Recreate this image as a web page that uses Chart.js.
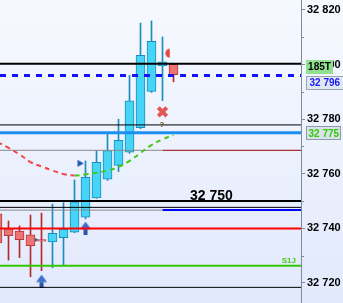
<!DOCTYPE html>
<html>
<head>
<meta charset="utf-8">
<script src="https://cdn.jsdelivr.net/npm/chart.js@4.4.1/dist/chart.umd.min.js"></script>
<style>
  html, body { margin: 0; padding: 0; background: #eef2fd; }
  canvas { display: block; }
</style>
</head>
<body>
<canvas id="chart" width="343" height="303"></canvas>
<script>
// candles, one per bar index (the first one is cut by the left edge)
const barIndex = [0, 1, 2, 3, 4, 5, 6, 7, 8, 9, 10, 11, 12, 13, 14, 15, 16];
const opens  = [32745.3, 32739.9, 32739.0, 32737.6, 32735.9, 32735.0, 32736.6, 32738.6, 32744.1, 32751.2, 32758.0, 32763.1, 32767.9, 32776.9, 32790.2, 32799.5, 32800.1];
const highs  = [32747.0, 32742.7, 32740.9, 32744.9, 32745.6, 32748.9, 32749.4, 32757.7, 32764.7, 32768.5, 32774.6, 32780.0, 32796.1, 32815.2, 32816.0, 32810.1, 32800.2];
const lows   = [32731.0, 32728.4, 32729.3, 32722.3, 32724.5, 32725.6, 32726.6, 32738.4, 32743.5, 32751.0, 32757.6, 32760.8, 32767.5, 32776.5, 32789.8, 32786.8, 32793.7];
const closes = [32734.7, 32737.3, 32735.9, 32733.7, 32735.3, 32738.2, 32739.7, 32749.7, 32758.7, 32764.2, 32768.5, 32772.3, 32786.7, 32803.4, 32808.5, 32801.0, 32796.3];

// moving average (red while falling, green while rising)
const maValues = [32771.6, 32769.5, 32767.1, 32764.3, 32762.7, 32761.2, 32759.9, 32759.4, 32759.8, 32760.4, 32761.2, 32762.5, 32764.7, 32767.6, 32770.5, 32772.6, 32774.2];

// horizontal price levels
const levelValues = [32800.3, 32796, 32777.9, 32775, 32768.6, 32750, 32747.7, 32746.7, 32740, 32726.3, 32718.4];
const levelSplitAt = 15;   // bar index where two-coloured levels change colour

// signal markers
const arrowUpX = [4, 8];
const arrowUpY = [32720.7, 32740.1];
const flagRightX = [7.47, 3.34];
const flagRightY = [32763.8, 32735.8];
const flagLeftX = [15.45];
const flagLeftY = [32804.2];
const crossX = [15];
const crossY = [32782.7];

// texts
const levelCaption = '32 750';
const levelCaptionValue = 32750;
const s1Caption = 'S1J';
const s1Value = 32726.3;
const timerTag = '185T';
const lastPrice = 32796;
const maPrice = 32775;

const yMin = 32712.67;
const yMax = 32823.66;
const xMin = 0.227;
const xMax = 27.591;

const fmt = v => String(Math.round(v)).replace(/\B(?=(\d{3})+$)/, ' ');
const axisColor = '#7d8c9c';

const levelStyles = [
    {color: '#000000', width: 2},
    {color: '#1515f2', width: 3, dash: [6, 6]},
    {color: '#000000', width: 1},
    {color: '#1d8ff2', width: 3},
    {color: '#8a8a8a', width: 1, after: {color: '#a00000', width: 1}},
    {color: '#000000', width: 2},
    {color: '#000000', width: 1},
    {color: '#8a8a8a', width: 1, after: {color: '#0000ff', width: 2}},
    {color: '#ff0000', width: 2},
    {color: '#33c800', width: 2},
    {color: '#000000', width: 1},
];

function arrowImage() {
    const c = document.createElement('canvas');
    c.width = 11; c.height = 13;
    const g = c.getContext('2d');
    g.fillStyle = '#3e70c9';
    g.beginPath();
    g.moveTo(5.5, 0); g.lineTo(11, 7.5); g.lineTo(0, 7.5);
    g.closePath(); g.fill();
    g.fillStyle = '#2b55a8';
    g.fillRect(3.5, 7.5, 4, 5.5);
    return c;
}

function halfDiscImage() {
    const c = document.createElement('canvas');
    c.width = 6; c.height = 10;
    const g = c.getContext('2d');
    g.fillStyle = '#e04444';
    g.beginPath();
    g.arc(5.5, 5, 4.6, Math.PI / 2, Math.PI * 1.5);
    g.closePath(); g.fill();
    return c;
}

const isUp = i => closes[i] >= opens[i];

const datasets = [];

// wicks
datasets.push({
    type: 'bar',
    data: barIndex.map(i => ({x: i, y: [lows[i], highs[i]]})),
    backgroundColor: ctx => isUp(ctx.dataIndex) ? '#1a8cc0' : '#b32a2a',
    borderWidth: 0,
    grouped: false,
    barPercentage: 1,
    categoryPercentage: 1,
    barThickness: 1,
    maxBarThickness: 1,
    order: 6,
});
// bodies
datasets.push({
    type: 'bar',
    data: barIndex.map(i => ({x: i, y: [opens[i], closes[i]]})),
    backgroundColor: ctx => isUp(ctx.dataIndex) ? '#47d5f7' : '#ee7474',
    borderColor: ctx => isUp(ctx.dataIndex) ? '#1a8cc0' : '#b63a3a',
    borderWidth: 1,
    borderSkipped: false,
    grouped: false,
    barPercentage: 1,
    categoryPercentage: 1,
    barThickness: 9,
    maxBarThickness: 9,
    order: 5,
});

// markers
datasets.push({
    type: 'line', showLine: false,
    data: arrowUpX.map((x, i) => ({x: x, y: arrowUpY[i]})),
    pointStyle: arrowImage(),
    order: 4,
});
datasets.push({
    type: 'line', showLine: false,
    data: flagRightX.map((x, i) => ({x: x, y: flagRightY[i]})),
    pointStyle: 'triangle',
    rotation: 90,
    pointRadius: 3.6,
    pointBackgroundColor: '#1f4fa0',
    pointBorderColor: '#5a82cc',
    pointBorderWidth: 1,
    order: 7,
});
datasets.push({
    type: 'line', showLine: false,
    data: flagLeftX.map((x, i) => ({x: x, y: flagLeftY[i]})),
    pointStyle: halfDiscImage(),
    order: 0,
});
datasets.push({
    type: 'line', showLine: false,
    data: crossX.map((x, i) => ({x: x, y: crossY[i]})),
    pointStyle: 'crossRot',
    pointRadius: 6,
    pointBorderWidth: 4,
    pointBorderColor: '#e25858',
    order: 0,
});

// levels
levelValues.forEach((v, k) => {
    const st = levelStyles[k];
    const end = st.after ? levelSplitAt : xMax;
    datasets.push({
        type: 'line',
        data: [{x: xMin, y: v}, {x: end, y: v}],
        borderColor: st.color,
        borderWidth: st.width,
        borderDash: st.dash || [],
        pointRadius: 0,
        order: 2,
    });
    if (st.after) {
        datasets.push({
            type: 'line',
            data: [{x: levelSplitAt, y: v}, {x: xMax, y: v}],
            borderColor: st.after.color,
            borderWidth: st.after.width,
            pointRadius: 0,
            order: 2,
        });
    }
});

// moving average
datasets.push({
    type: 'line',
    data: barIndex.map(i => ({x: i, y: maValues[i]})),
    borderWidth: 2,
    borderDash: [5, 4],
    tension: 0.4,
    pointRadius: 0,
    segment: {
        borderColor: ctx => ctx.p1.parsed.y < ctx.p0.parsed.y ? '#f04848' : '#45c81e',
    },
    order: 1,
});

const overlay = {
    id: 'overlay',
    beforeDraw(chart) {
        const {ctx, width, height} = chart;
        const g = ctx.createLinearGradient(0, 0, 0, height);
        g.addColorStop(0, '#f6f9fe');
        g.addColorStop(1, '#e2e9fc');
        ctx.save();
        ctx.fillStyle = g;
        ctx.fillRect(0, 0, width, height);
        ctx.restore();
    },
    afterDraw(chart) {
        const {ctx, chartArea} = chart;
        const x = chart.scales.x;
        const y = chart.scales.y;
        ctx.save();

        // short minor ticks on the price axis
        ctx.strokeStyle = axisColor;
        ctx.lineWidth = 1;
        y.ticks.forEach(t => {
            if (Math.round(t.value) % 20 !== 0) {
                const py = Math.round(y.getPixelForValue(t.value)) + 0.5;
                ctx.beginPath();
                ctx.moveTo(chartArea.right, py);
                ctx.lineTo(chartArea.right + 3, py);
                ctx.stroke();
            }
        });

        // level caption
        ctx.font = 'bold 14px "Liberation Sans"';
        ctx.fillStyle = '#000';
        ctx.textAlign = 'left';
        ctx.textBaseline = 'alphabetic';
        ctx.fillText(levelCaption, x.getPixelForValue(17.5), y.getPixelForValue(levelCaptionValue) - 1.5);

        // S1J caption
        ctx.font = 'bold 8px "Liberation Sans"';
        ctx.fillStyle = '#44cc22';
        ctx.textAlign = 'right';
        ctx.fillText(s1Caption, chartArea.right - 5, y.getPixelForValue(s1Value) - 3);

        // small question mark under the cross
        ctx.font = 'bold 7px "Liberation Sans"';
        ctx.fillStyle = '#5a3a10';
        ctx.textAlign = 'center';
        ctx.fillText('?', x.getPixelForValue(crossX[0]) - 0.5, y.getPixelForValue(crossY[0]) + 15);

        // right axis tags
        const left = chartArea.right + 5;
        ctx.textBaseline = 'middle';

        let py = y.getPixelForValue(32800) + 2;
        ctx.fillStyle = '#8fe08f';
        ctx.fillRect(left, Math.round(py - 7), 27, 14);
        ctx.font = 'bold 10px "Liberation Sans"';
        ctx.fillStyle = '#000';
        ctx.textAlign = 'center';
        ctx.fillText(timerTag, left + 13.5, py + 0.5);

        py = y.getPixelForValue(lastPrice) + 7;
        ctx.fillStyle = '#dfe7f1';
        ctx.strokeStyle = '#98a4b2';
        ctx.lineWidth = 1;
        ctx.fillRect(left + 0.5, Math.round(py - 7) + 0.5, 37, 13);
        ctx.strokeRect(left + 0.5, Math.round(py - 7) + 0.5, 37, 13);
        ctx.font = 'bold 10px "Liberation Sans"';
        ctx.fillStyle = '#1a1aff';
        ctx.textAlign = 'left';
        ctx.fillText(fmt(lastPrice), left + 3.5, py + 0.5);

        py = y.getPixelForValue(maPrice) + 0.5;
        ctx.fillStyle = '#d9e1ea';
        ctx.strokeStyle = '#8e9bab';
        ctx.fillRect(left + 0.5, Math.round(py - 7) + 0.5, 34, 13);
        ctx.strokeRect(left + 0.5, Math.round(py - 7) + 0.5, 34, 13);
        ctx.fillStyle = '#33cc00';
        ctx.fillText(fmt(maPrice), left + 2.5, py + 0.5);

        ctx.restore();
    },
};

new Chart(document.getElementById('chart'), {
    type: 'bar',
    data: {datasets: datasets},
    options: {
        responsive: false,
        animation: false,
        events: [],
        layout: {padding: 0, autoPadding: false},
        plugins: {
            legend: {display: false},
            tooltip: {enabled: false},
        },
        scales: {
            x: {
                type: 'linear',
                min: xMin,
                max: xMax,
                offset: false,
                display: false,
            },
            y: {
                type: 'linear',
                position: 'right',
                min: yMin,
                max: yMax,
                afterFit: scale => {
                    scale.width = 42;
                    scale.paddingTop = 0;
                    scale.paddingBottom = 0;
                },
                grid: {
                    display: true,
                    drawOnChartArea: false,
                    drawTicks: true,
                    tickLength: 4,
                    color: axisColor,
                    tickColor: ctx => Math.round(ctx.tick.value) % 20 === 0 ? axisColor : 'rgba(0,0,0,0)',
                },
                border: {display: true, color: axisColor, width: 1},
                ticks: {
                    stepSize: 10,
                    maxTicksLimit: 20,
                    includeBounds: false,
                    autoSkip: false,
                    padding: 2,
                    color: '#000',
                    font: {family: 'Liberation Sans', size: 11, weight: 'bold'},
                    callback: v => Math.round(v) % 20 === 0 ? fmt(v) : '',
                },
            },
        },
    },
    plugins: [overlay],
});
</script>
</body>
</html>
